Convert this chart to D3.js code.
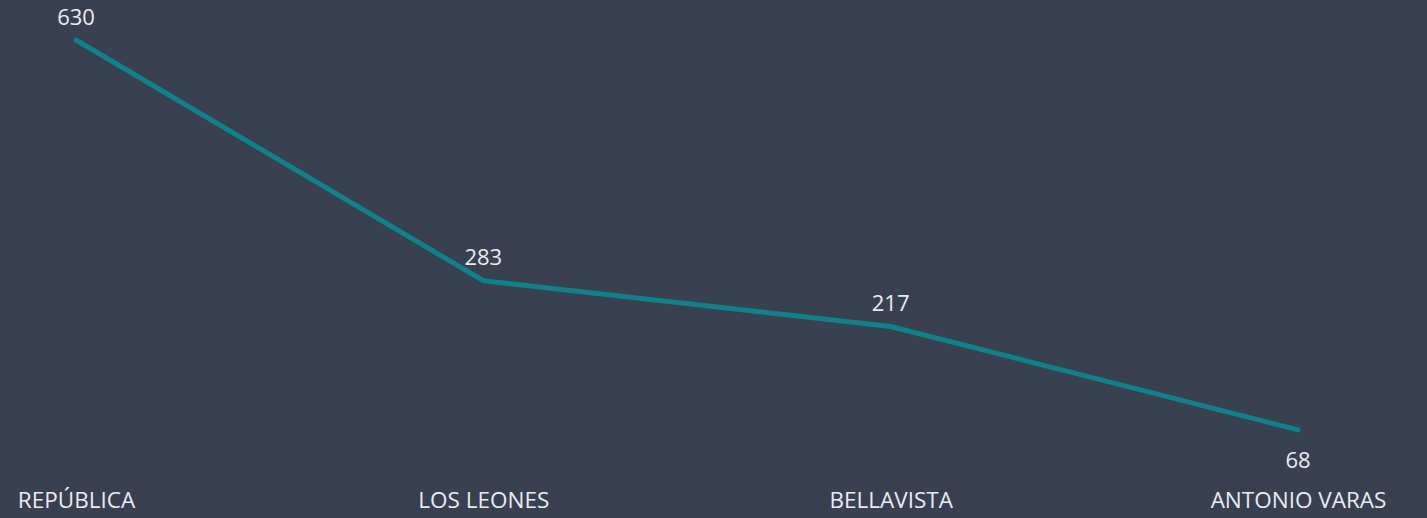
<!DOCTYPE html>
<html>
<head>
<meta charset="utf-8">
<script src="https://cdn.jsdelivr.net/npm/d3@7"></script>
<style>
  html, body { margin: 0; padding: 0; background: #394050; }
  #chart { width: 1427px; height: 518px; }
  text { font-family: "Segoe UI", "Open Sans", sans-serif; }
</style>
</head>
<body>
<div id="chart"></div>
<script>
// data
var stations = ["REPÚBLICA", "LOS LEONES", "BELLAVISTA", "ANTONIO VARAS"];
var counts = [630, 283, 217, 68];
// where each value label sits: above or below its point
var labelSide = ["above", "above", "above", "below"];

var width = 1427, height = 518;

var svg = d3.select("#chart").append("svg")
	.attr("width", width)
	.attr("height", height);

// x: one point per station
var x_scale = d3.scalePoint()
	.domain(stations)
	.range([76, 1298]);

// y: linear, 0 at bottom
var y_scale = d3.scaleLinear()
	.domain([0, 630])
	.range([477, 40]);

// x axis labels only, no line or ticks
var xAxis = d3.axisBottom(x_scale).tickSize(0).tickPadding(0);
var gx = svg.append("g")
	.attr("class", "x_axis")
	.attr("transform", "translate(0,508)")
	.call(xAxis);
gx.select(".domain").remove();
gx.selectAll("text")
	.attr("fill", "#e8ecf3")
	.attr("font-size", "22.5px")
	.attr("y", 0)
	.attr("dy", 0);

var data = stations.map(function(s, i) {
	return { name: s, value: counts[i], side: labelSide[i] };
});

var line = d3.line()
	.x(function(d) { return x_scale(d.name); })
	.y(function(d) { return y_scale(d.value); });

svg.append("path")
	.datum(data)
	.attr("fill", "none")
	.attr("stroke", "#0f8189")
	.attr("stroke-width", 5)
	.attr("stroke-linecap", "round")
	.attr("stroke-linejoin", "round")
	.attr("d", line);

// value labels
svg.selectAll("text.value")
	.data(data)
	.enter()
	.append("text")
	.attr("class", "value")
	.attr("x", function(d) { return x_scale(d.name); })
	.attr("y", function(d) {
		return d.side == "above" ? y_scale(d.value) - 15.5 : y_scale(d.value) + 38;
	})
	.attr("text-anchor", "middle")
	.attr("fill", "#e8ecf3")
	.attr("font-size", "22px")
	.text(function(d) { return d.value; });
</script>
</body>
</html>
